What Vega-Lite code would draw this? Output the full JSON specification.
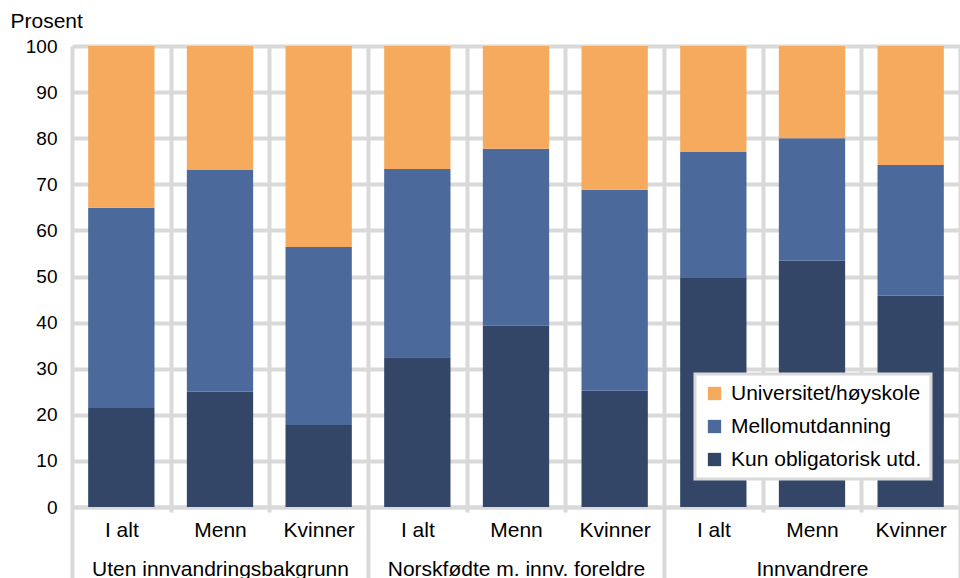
{
  "$schema": "https://vega.github.io/schema/vega-lite/v6.json",
  "width": 888,
  "height": 461,
  "autosize": {"type": "none"},
  "padding": {"left": 72, "top": 46, "right": 0, "bottom": 71},
  "background": "white",
  "config": {
    "font": "Liberation Sans",
    "view": {"stroke": null},
    "axis": {"labelFont": "Liberation Sans", "titleFont": "Liberation Sans", "labelFontSize": 21, "titleFontSize": 21, "labelColor": "#000000", "titleColor": "#000000", "titleFontWeight": "normal"},
    "legend": {"strokeWidth": 3}
  },
  "data": {
    "values": [
      {"key": "Uten|I alt", "niva": "Kun obligatorisk utd.", "pst": 21.5},
      {"key": "Uten|I alt", "niva": "Mellomutdanning", "pst": 43.4},
      {"key": "Uten|I alt", "niva": "Universitet/høyskole", "pst": 35.1},
      {"key": "Uten|Menn", "niva": "Kun obligatorisk utd.", "pst": 25.0},
      {"key": "Uten|Menn", "niva": "Mellomutdanning", "pst": 48.1},
      {"key": "Uten|Menn", "niva": "Universitet/høyskole", "pst": 26.9},
      {"key": "Uten|Kvinner", "niva": "Kun obligatorisk utd.", "pst": 17.8},
      {"key": "Uten|Kvinner", "niva": "Mellomutdanning", "pst": 38.6},
      {"key": "Uten|Kvinner", "niva": "Universitet/høyskole", "pst": 43.6},
      {"key": "Norsk|I alt", "niva": "Kun obligatorisk utd.", "pst": 32.5},
      {"key": "Norsk|I alt", "niva": "Mellomutdanning", "pst": 40.8},
      {"key": "Norsk|I alt", "niva": "Universitet/høyskole", "pst": 26.7},
      {"key": "Norsk|Menn", "niva": "Kun obligatorisk utd.", "pst": 39.3},
      {"key": "Norsk|Menn", "niva": "Mellomutdanning", "pst": 38.4},
      {"key": "Norsk|Menn", "niva": "Universitet/høyskole", "pst": 22.3},
      {"key": "Norsk|Kvinner", "niva": "Kun obligatorisk utd.", "pst": 25.2},
      {"key": "Norsk|Kvinner", "niva": "Mellomutdanning", "pst": 43.6},
      {"key": "Norsk|Kvinner", "niva": "Universitet/høyskole", "pst": 31.2},
      {"key": "Innv|I alt", "niva": "Kun obligatorisk utd.", "pst": 49.7},
      {"key": "Innv|I alt", "niva": "Mellomutdanning", "pst": 27.3},
      {"key": "Innv|I alt", "niva": "Universitet/høyskole", "pst": 23.0},
      {"key": "Innv|Menn", "niva": "Kun obligatorisk utd.", "pst": 53.4},
      {"key": "Innv|Menn", "niva": "Mellomutdanning", "pst": 26.6},
      {"key": "Innv|Menn", "niva": "Universitet/høyskole", "pst": 20.0},
      {"key": "Innv|Kvinner", "niva": "Kun obligatorisk utd.", "pst": 45.8},
      {"key": "Innv|Kvinner", "niva": "Mellomutdanning", "pst": 28.4},
      {"key": "Innv|Kvinner", "niva": "Universitet/høyskole", "pst": 25.8}
    ]
  },
  "mark": {"type": "bar", "width": {"band": 0.672}},
  "encoding": {
    "x": {
      "field": "key",
      "type": "nominal",
      "sort": null,
      "scale": {"paddingInner": 0, "paddingOuter": 0},
      "axis": {
        "title": null,
        "labelAngle": 0,
        "labelPadding": {"condition": {"test": "split(datum.value,'|')[1] == 'Kvinner'", "value": -59}, "value": 7},
        "labelLineHeight": 39,
        "labelBaseline": "top",
        "labelLimit": 400,
        "labelExpr": "split(datum.value,'|')[1] == 'Menn' ? ['Menn', split(datum.value,'|')[0] == 'Uten' ? 'Uten innvandringsbakgrunn' : split(datum.value,'|')[0] == 'Norsk' ? 'Norskfødte m. innv. foreldre' : 'Innvandrere'] : split(datum.value,'|')[1]",
        "tickBand": "extent",
        "grid": true,
        "gridColor": "#d9d9d9",
        "gridWidth": 4,
        "domain": true,
        "domainColor": "#d9d9d9",
        "domainWidth": 4,
        "ticks": true,
        "tickColor": "#d9d9d9",
        "tickWidth": 4,
        "tickSize": {"condition": {"test": "datum.extra || (datum.value && split(datum.value,'|')[1] == 'Kvinner')", "value": 71}, "value": 5}
      }
    },
    "y": {
      "field": "pst",
      "type": "quantitative",
      "stack": "zero",
      "scale": {"domain": [0, 100], "nice": false},
      "axis": {
        "title": "Prosent",
        "titleAngle": 0,
        "titleAlign": "left",
        "titleBaseline": "alphabetic",
        "titleX": -62,
        "titleY": -19,
        "values": [0, 10, 20, 30, 40, 50, 60, 70, 80, 90, 100],
        "labelFontSize": 19,
        "grid": true,
        "gridColor": "#d9d9d9",
        "gridWidth": 4,
        "domain": false,
        "ticks": false,
        "labelPadding": 15
      }
    },
    "color": {
      "field": "niva",
      "type": "nominal",
      "scale": {
        "domain": ["Universitet/høyskole", "Mellomutdanning", "Kun obligatorisk utd."],
        "range": ["#F6AA5E", "#4B6A9B", "#334668"]
      },
      "legend": {
        "title": null,
        "orient": "none",
        "legendX": 623,
        "legendY": 328,
        "symbolType": "square",
        "symbolSize": 177,
        "symbolStrokeWidth": 0,
        "labelFontSize": 21,
        "labelFont": "Liberation Sans",
        "labelColor": "#000000",
        "labelLimit": 300,
        "rowPadding": 11,
        "padding": 9,
        "fillColor": "white",
        "strokeColor": "#d9d9d9",
        "labelOffset": 6
      }
    },
    "order": {"field": "niva", "sort": "ascending"}
  }
}
